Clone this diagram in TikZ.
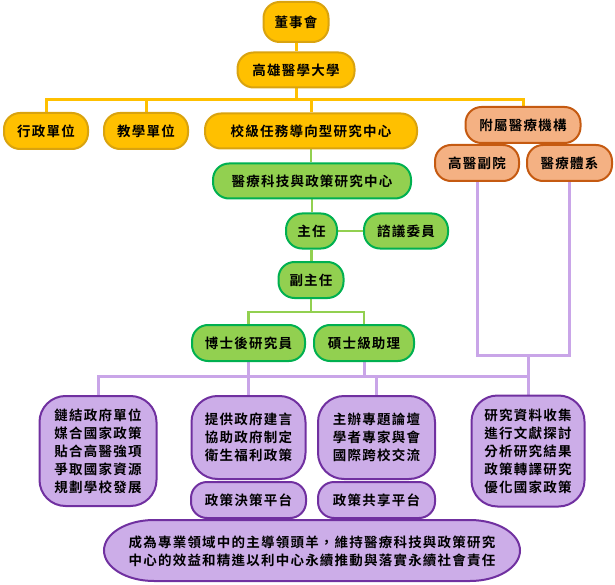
\documentclass[tikz,border=0pt]{standalone}
\usepackage{fontspec}
\setmainfont{Noto Sans CJK TC}[LetterSpace=9, BoldFont={Noto Sans CJK TC Bold}]
\usetikzlibrary{backgrounds}
\definecolor{cYfill}{HTML}{FFC000}
\definecolor{cYline}{HTML}{D9A30F}
\definecolor{cOfill}{HTML}{F4B183}
\definecolor{cOline}{HTML}{C55A11}
\definecolor{cGfill}{HTML}{92D050}
\definecolor{cGline}{HTML}{00B050}
\definecolor{cPfill}{HTML}{CCADE8}
\definecolor{cPline}{HTML}{7030A0}
\definecolor{cPcon}{HTML}{C9A5E8}
\begin{document}
\begin{tikzpicture}[x=1pt,y=-1pt,
  font=\fontsize{13.5}{18}\selectfont\bfseries,
  box/.style={draw, line width=2pt, rounded corners=16pt, minimum height=36pt, inner sep=0pt, align=center},
  ybox/.style={box, fill=cYfill, draw=cYline},
  obox/.style={box, fill=cOfill, draw=cOline},
  gbox/.style={box, fill=cGfill, draw=cGline},
  pbox/.style={box, fill=cPfill, draw=cPline},
  tallbox/.style={pbox, rounded corners=26pt},
  ycon/.style={draw=cYfill, line width=3pt},
  gcon/.style={draw=cGfill, line width=2.8pt},
  pcon/.style={draw=cPcon, line width=3pt}]
\useasboundingbox (0,0) rectangle (615,585);

% yellow level
\node[ybox, minimum width=65pt, minimum height=40pt] (dsh) at (296,22) {董事會};
\node[ybox, minimum width=117pt, minimum height=35pt] (univ) at (296,70) {高雄醫學大學};
\node[ybox, minimum width=84pt] (admin) at (46,131) {行政單位};
\node[ybox, minimum width=84pt] (teach) at (146,131) {教學單位};
\node[ybox, minimum width=212pt, minimum height=35pt] (mission) at (311,131) {校級任務導向型研究中心};
% orange
\node[obox, minimum width=115pt] (affil) at (523,125) {附屬醫療機構};
\node[obox, minimum width=84pt] (kmuh) at (477,163) {高醫副院};
\node[obox, minimum width=85pt] (system) at (569.5,163) {醫療體系};
% green
\node[gbox, minimum width=198pt, minimum height=35pt] (center) at (312,181) {醫療科技與政策研究中心};
\node[gbox, minimum width=51pt, minimum height=35pt] (director) at (311.5,231) {主任};
\node[gbox, minimum width=84pt, minimum height=35pt] (advisory) at (406,231) {諮議委員};
\node[gbox, minimum width=65pt] (deputy) at (311,280) {副主任};
\node[gbox, minimum width=113pt] (postdoc) at (248.5,343) {博士後研究員};
\node[gbox, minimum width=100pt] (master) at (364,343) {碩士級助理};
% purple
\node[tallbox, minimum width=117pt, minimum height=110pt] (box1) at (98,451)
  {鏈結政府單位\\媒合國家政策\\貼合高醫強項\\爭取國家資源\\規劃學校發展};
\node[tallbox, minimum width=114pt, minimum height=83pt] (box2) at (248.5,437.5)
  {提供政府建言\\協助政府制定\\衛生福利政策};
\node[pbox, minimum width=115pt] (plat1) at (248.5,500) {政策決策平台};
\node[tallbox, minimum width=117pt, minimum height=83pt] (box3) at (376.5,437.5)
  {主辦專題論壇\\學者專家與會\\國際跨校交流};
\node[pbox, minimum width=117pt] (plat2) at (376.5,500) {政策共享平台};
\node[tallbox, minimum width=113pt, minimum height=111pt] (box4) at (528,451)
  {研究資料收集\\進行文獻探討\\分析研究結果\\政策轉譯研究\\優化國家政策};
\node[align=center, inner sep=0pt] (goal) at (312,551)
  {成為專業領域中的主導領頭羊，維持醫療科技與政策研究\\中心的效益和精進以利中心永續推動與落實永續社會責任};

\begin{pgfonlayer}{background}
  \filldraw[fill=cPfill, draw=cPline, line width=2pt]
    (154,520) -- (470,520) arc[start angle=-90, end angle=90, x radius=50, y radius=30.5]
    -- (154,581) arc[start angle=90, end angle=270, x radius=50, y radius=30.5] -- cycle;
  \coordinate (ybus) at (0,100);
  \coordinate (gbus) at (0,312);
  \coordinate (pbus) at (0,376);
  \coordinate (mbus) at (0,355);
  % yellow connectors
  \draw[ycon] (dsh.south) -- (dsh.south |- univ.north);
  \draw[ycon] (univ.south) -- (univ.south |- ybus);
  \draw[ycon] (admin.north) |- (affil.north |- ybus) -- (affil.north);
  \draw[ycon] (teach.north) -- (teach.north |- ybus);
  \draw[ycon] (mission.north) -- (mission.north |- ybus);
  % green connectors
  \draw[gcon] (mission.south) -- (mission.south |- center.north);
  \draw[gcon] (center.south) -- (center.south |- director.north);
  \draw[gcon] (director.east) -- (advisory.west);
  \draw[gcon] (director.south) -- (director.south |- deputy.north);
  \draw[gcon] (deputy.south) -- (deputy.south |- gbus);
  \draw[gcon] (postdoc.north) |- (master.north |- gbus) -- (master.north);
  % purple connectors
  \draw[pcon] (postdoc.south) -- (box2.north);
  \draw[pcon] (master.south) -- (master.south |- pbus);
  \draw[pcon] (box1.north) |- (box4.north |- pbus) -- (box4.north);
  \draw[pcon] (box3.north) -- (box3.north |- pbus);
  \draw[pcon] (kmuh.south) |- (system.south |- mbus) -- (system.south);
  \draw[pcon] (box4.north |- mbus) -- (box4.north |- pbus);
\end{pgfonlayer}
\end{tikzpicture}
\end{document}
